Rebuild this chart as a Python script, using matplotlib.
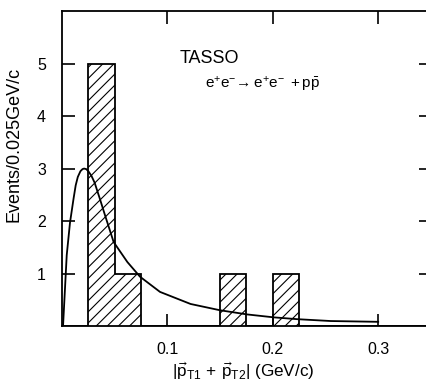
import numpy as np
import matplotlib
matplotlib.use("Agg")
import matplotlib.pyplot as plt

# histogram: events per 0.025 GeV/c bin
bin_edges = [0.0, 0.025, 0.05, 0.075, 0.1, 0.125, 0.15, 0.175, 0.2,
             0.225, 0.25, 0.275, 0.3, 0.325, 0.35]
counts = [0, 5, 1, 0, 0, 0, 1, 0, 1, 0, 0, 0, 0, 0]

# fitted curve
curve_x = [0.001, 0.0045, 0.0076, 0.011, 0.013, 0.015, 0.0175, 0.0195, 0.021,
           0.023, 0.025, 0.028, 0.031, 0.036, 0.041, 0.049, 0.062, 0.074,
           0.093, 0.122, 0.150, 0.176, 0.201, 0.2235, 0.255, 0.30]
curve_y = [0.0, 1.35, 1.97, 2.43, 2.68, 2.84, 2.95, 2.99, 3.0,
           2.99, 2.95, 2.86, 2.73, 2.42, 2.1, 1.6, 1.22, 0.94,
           0.65, 0.42, 0.30, 0.22, 0.165, 0.13, 0.095, 0.08]

xticks = [0.1, 0.2, 0.3]
xticklabels = ["0.1", "0.2", "0.3"]
yticks = [1, 2, 3, 4, 5]

plt.rcParams["font.family"] = ["Liberation Sans", "DejaVu Sans"]
plt.rcParams["mathtext.fontset"] = "custom"
plt.rcParams["mathtext.rm"] = "Liberation Sans"
plt.rcParams["mathtext.it"] = "Liberation Sans"
plt.rcParams["mathtext.default"] = "regular"
plt.rcParams["hatch.linewidth"] = 0.8

fig = plt.figure(figsize=(4.26, 3.84), dpi=100)
ax = fig.add_axes([0.1455, 0.151, 0.866, 0.820])

ax.stairs(counts, bin_edges, fill=True, facecolor="white",
          edgecolor="black", hatch="///", linewidth=1.3)
ax.plot(curve_x, curve_y, color="black", linewidth=1.3)

ax.set_xlim(0, 0.35)
ax.set_ylim(0, 6)
ax.set_xticks(xticks)
ax.set_xticklabels(xticklabels)
ax.set_yticks(yticks)
ax.tick_params(direction="in", length=9, width=1.2, top=True, right=True,
               labelsize=11.5, pad=11.5)
for s in ax.spines.values():
    s.set_linewidth(1.3)

ax.set_ylabel("Events/0.025GeV/c", fontsize=13)
ax.yaxis.set_label_coords(-0.107, 0.576)
ax.set_xlabel(r"$|\vec{p}_{T1}\,+\,\vec{p}_{T2}|$ (GeV/c)", fontsize=12.3)
ax.xaxis.set_label_coords(0.4925, -0.108)

ax.text(0.112, 5.1, "TASSO", fontsize=13, va="center", ha="left")
ax.text(0.136, 4.61, r"$e^{+}e^{-}\!\rightarrow e^{+}e^{-}\;+p\bar{p}$",
        fontsize=11, va="center", ha="left")

fig.savefig("out.png", dpi=100)
